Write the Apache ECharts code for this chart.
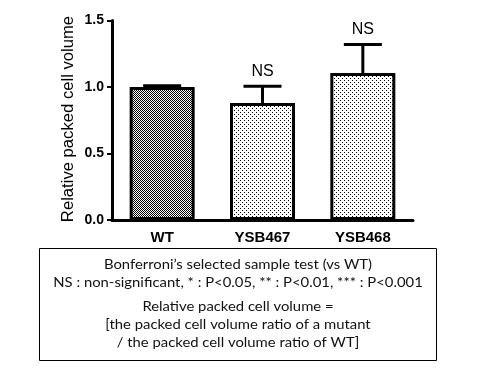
<!DOCTYPE html>
<html><head><meta charset="utf-8">
<script src="https://cdn.jsdelivr.net/npm/echarts@6/dist/echarts.min.js"></script>
<style>html,body{margin:0;padding:0;background:#fff}#c{width:480px;height:370px}</style>
</head><body><div id="c"></div>
<script>
var categories = ['WT', 'YSB467', 'YSB468'];
var means = [1.0, 0.88, 1.105];
var errUpper = [1.01, 1.005, 1.32];
var sigLabels = ['', 'NS', 'NS'];
var yTicks = [0, 0.5, 1.0, 1.5];
var yAxisTitle = 'Relative packed cell volume';
var noteLines = [
  'Bonferroni\u2019s selected sample test (vs WT)',
  'NS : non-significant, * : P<0.05, ** : P<0.01, *** : P<0.001',
  'Relative packed cell volume =',
  '[the packed cell volume ratio of a mutant',
  '/ the packed cell volume ratio of WT]'
];

function checker() {
  var c = document.createElement('canvas'); c.width = 2; c.height = 2;
  var g = c.getContext('2d'); g.fillStyle = '#fff'; g.fillRect(0,0,2,2);
  g.fillStyle = '#000'; g.fillRect(0,0,1,1); g.fillRect(1,1,1,1);
  return c;
}
function dots() {
  var c = document.createElement('canvas'); c.width = 4; c.height = 4;
  var g = c.getContext('2d'); g.fillStyle = '#fff'; g.fillRect(0,0,4,4);
  g.fillStyle = '#000'; g.fillRect(0,0,1,1); g.fillRect(2,2,1,1);
  return c;
}
var pats = [checker(), dots(), dots()];

var chart = echarts.init(document.getElementById('c'), null, {renderer: 'canvas'});
var noteY = [264, 282, 306, 324, 342];
var graphics = [{
  type: 'rect', shape: {x: 39.5, y: 248.5, width: 397, height: 112},
  style: {fill: 'none', stroke: '#000', lineWidth: 1}
}, {
  type: 'text', x: 69, y: 119, rotation: Math.PI / 2, scaleX: 1.04,
  style: {text: yAxisTitle, fill: '#000', font: '16px Arial, "Liberation Sans", sans-serif', textAlign: 'center', textVerticalAlign: 'middle'}
}];
noteLines.forEach(function (t, i) {
  graphics.push({type: 'text', x: 238, y: noteY[i], scaleX: 1.06,
    style: {text: t, fill: '#111', font: '14px Lato, "Open Sans", sans-serif', textAlign: 'center', textVerticalAlign: 'middle'}});
});

chart.setOption({
  animation: false,
  grid: {left: 112, right: 67, top: 20.5, bottom: 150},
  xAxis: {
    type: 'category', data: categories,
    axisLine: {lineStyle: {color: '#000', width: 3}},
    axisTick: {alignWithLabel: true, length: 5, lineStyle: {color: '#000', width: 2}},
    axisLabel: {color: '#000', fontFamily: 'Arial, "Liberation Sans", sans-serif', fontWeight: 'bold', fontSize: 15, margin: 10}
  },
  yAxis: {
    type: 'value', min: 0, max: 1.5, interval: 0.5,
    axisLine: {show: true, lineStyle: {color: '#000', width: 3}},
    axisTick: {show: true, length: 5, lineStyle: {color: '#000', width: 2}},
    splitLine: {show: false},
    axisLabel: {color: '#000', fontFamily: 'Arial, "Liberation Sans", sans-serif', fontWeight: 'bold', fontSize: 14, margin: 8,
      formatter: function (v) { return yTicks.indexOf(v) >= 0 ? v.toFixed(1) : ''; }}
  },
  series: [{
    type: 'bar', barWidth: 65, z: 2,
    data: means.map(function (v, i) {
      return {value: v, itemStyle: {color: {image: pats[i], repeat: 'repeat'}, borderColor: '#000', borderWidth: 3}};
    })
  }, {
    type: 'custom', z: 3,
    data: categories.map(function (c, i) { return [i, means[i], errUpper[i]]; }),
    renderItem: function (params, api) {
      var x = api.coord([api.value(0), 0])[0];
      var y0 = api.coord([api.value(0), api.value(1)])[1];
      var y1 = api.coord([api.value(0), api.value(2)])[1];
      var i = params.dataIndex;
      var ch = [
        {type: 'line', shape: {x1: x, y1: y0, x2: x, y2: y1}, style: {stroke: '#000', lineWidth: 3}},
        {type: 'line', shape: {x1: x - 19, y1: y1, x2: x + 19, y2: y1}, style: {stroke: '#000', lineWidth: 3}}
      ];
      if (sigLabels[i]) {
        ch.push({type: 'text', x: x, y: y1 - 15,
          style: {text: sigLabels[i], fill: '#000', font: '16px Arial, "Liberation Sans", sans-serif', textAlign: 'center', textVerticalAlign: 'middle'}});
      }
      return {type: 'group', children: ch};
    }
  }],
  graphic: graphics
});
</script></body></html>
